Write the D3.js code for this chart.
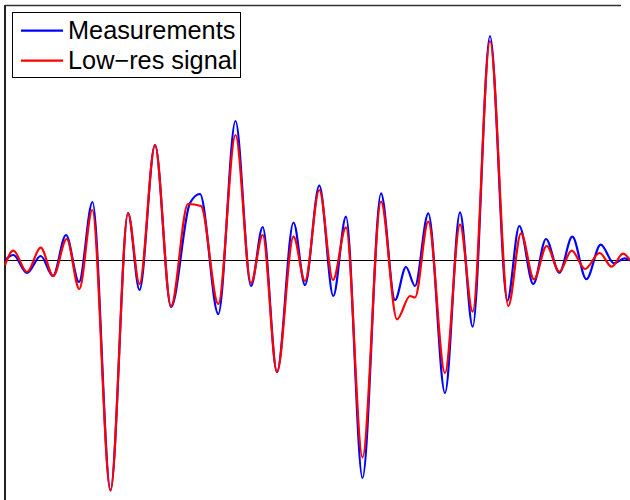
<!DOCTYPE html>
<html>
<head>
<meta charset="utf-8">
<script src="https://cdn.jsdelivr.net/npm/d3@7"></script>
<style>
  html, body { margin: 0; padding: 0; background: #fff; }
  svg { display: block; }
  text { font-family: "Liberation Sans", Arial, Helvetica, sans-serif; }
</style>
</head>
<body>
<svg id="chart" width="630" height="500"></svg>
<script>
// Measured signal: sample index and amplitude at each turning point
const measX = [0, 8.3, 22, 35.7, 48, 61, 74, 87.5, 105.5, 123, 134.5, 150, 166, 185, 195, 213.3,
  230.5, 246, 257.7, 272, 288.5, 300, 314.3, 328.3, 341, 357.5, 376, 390, 401, 410, 423.3,
  440, 455, 467.7, 485, 502.3, 514.3, 528.3, 541, 554.3, 567.3, 581.3, 595.7, 609, 619.5, 625];
const measY = [0.01, 0.06, -0.12, 0.05, -0.15, 0.26, -0.21, 0.59, -2.29, 0.48, -0.29, 1.16, -0.46, 0.58, 0.67, -0.53,
  1.40, -0.25, 0.34, -1.11, 0.385, -0.24, 0.755, -0.35, 0.443, -2.17, 0.677, -0.39, -0.06, -0.25, 0.477,
  -1.32, 0.487, -0.657, 2.25, -0.397, 0.35, -0.23, 0.22, -0.117, 0.243, -0.182, 0.163, -0.023, 0.027, 0.003];

// Low-resolution reconstruction
const lowX = [0, 8.3, 22, 35.7, 48.3, 61.7, 74.3, 87.3, 105.5, 123, 134.5, 150, 166, 183, 196, 213.3,
  230.5, 246, 257.7, 272, 288.5, 300, 314.3, 328, 341, 357.5, 376, 392, 405, 410, 423.3,
  440, 455, 467.7, 485, 503.3, 516, 529, 541.7, 554.3, 566.7, 580, 594.6, 606.7, 618, 625];
const lowY = [-0.04, 0.103, -0.11, 0.133, -0.15, 0.22, -0.28, 0.51, -2.30, 0.48, -0.23, 1.16, -0.45, 0.57, 0.55, -0.43,
  1.26, -0.22, 0.26, -1.11, 0.243, -0.2, 0.71, -0.19, 0.337, -1.965, 0.593, -0.583, -0.35, -0.365, 0.393,
  -1.12, 0.367, -0.507, 2.20, -0.45, 0.277, -0.183, 0.15, -0.107, 0.103, -0.08, 0.08, -0.057, 0.073, 0.01];

const seriesNames = ["Measurements", "Low\u2212res signal"];
const seriesColors = ["#0000ff", "#ff0000"];

const svg = d3.select("#chart");

const x = d3.scaleLinear().domain([0, 625]).range([5, 630]);
const y = d3.scaleLinear().domain([-2.39, 2.56]).range([500, 5]);

// Axes frame: left and top edges of the plot box
svg.append("line")
  .attr("x1", 5).attr("x2", 5).attr("y1", 5).attr("y2", 500)
  .attr("stroke", "#222").attr("stroke-width", 2);
svg.append("line")
  .attr("x1", 5).attr("x2", 621).attr("y1", 5.5).attr("y2", 5.5)
  .attr("stroke", "#333").attr("stroke-width", 1.5);

// Zero baseline, snapped to a pixel row so it stays crisp
const zeroY = Math.round(y(0)) - 0.5;
svg.append("line")
  .attr("x1", x(0)).attr("x2", x(625)).attr("y1", zeroY).attr("y2", zeroY)
  .attr("stroke", "#000").attr("stroke-width", 1);

const line = d3.line()
  .x(d => x(d[0]))
  .y(d => y(d[1]))
  .curve(d3.curveMonotoneX);

const series = [d3.zip(measX, measY), d3.zip(lowX, lowY)];

svg.selectAll("path.sig")
  .data(series)
  .join("path")
  .attr("class", "sig")
  .attr("d", line)
  .attr("fill", "none")
  .attr("stroke", (d, i) => seriesColors[i])
  .attr("stroke-width", 2.2)
  .attr("stroke-linejoin", "round");

// Legend
const lg = svg.append("g");
lg.append("rect")
  .attr("x", 12.5).attr("y", 12.5).attr("width", 228).attr("height", 65)
  .attr("fill", "#fff").attr("stroke", "#000").attr("stroke-width", 1);
seriesNames.forEach((name, i) => {
  const cy = 30.7 + i * 30;
  lg.append("line")
    .attr("x1", 21).attr("x2", 63).attr("y1", cy).attr("y2", cy)
    .attr("stroke", seriesColors[i]).attr("stroke-width", 2.2);
  lg.append("text")
    .attr("x", 68).attr("y", 39.3 + i * 29.5)
    .attr("font-size", 25.3)
    .attr("fill", "#000")
    .text(name);
});
</script>
</body>
</html>
